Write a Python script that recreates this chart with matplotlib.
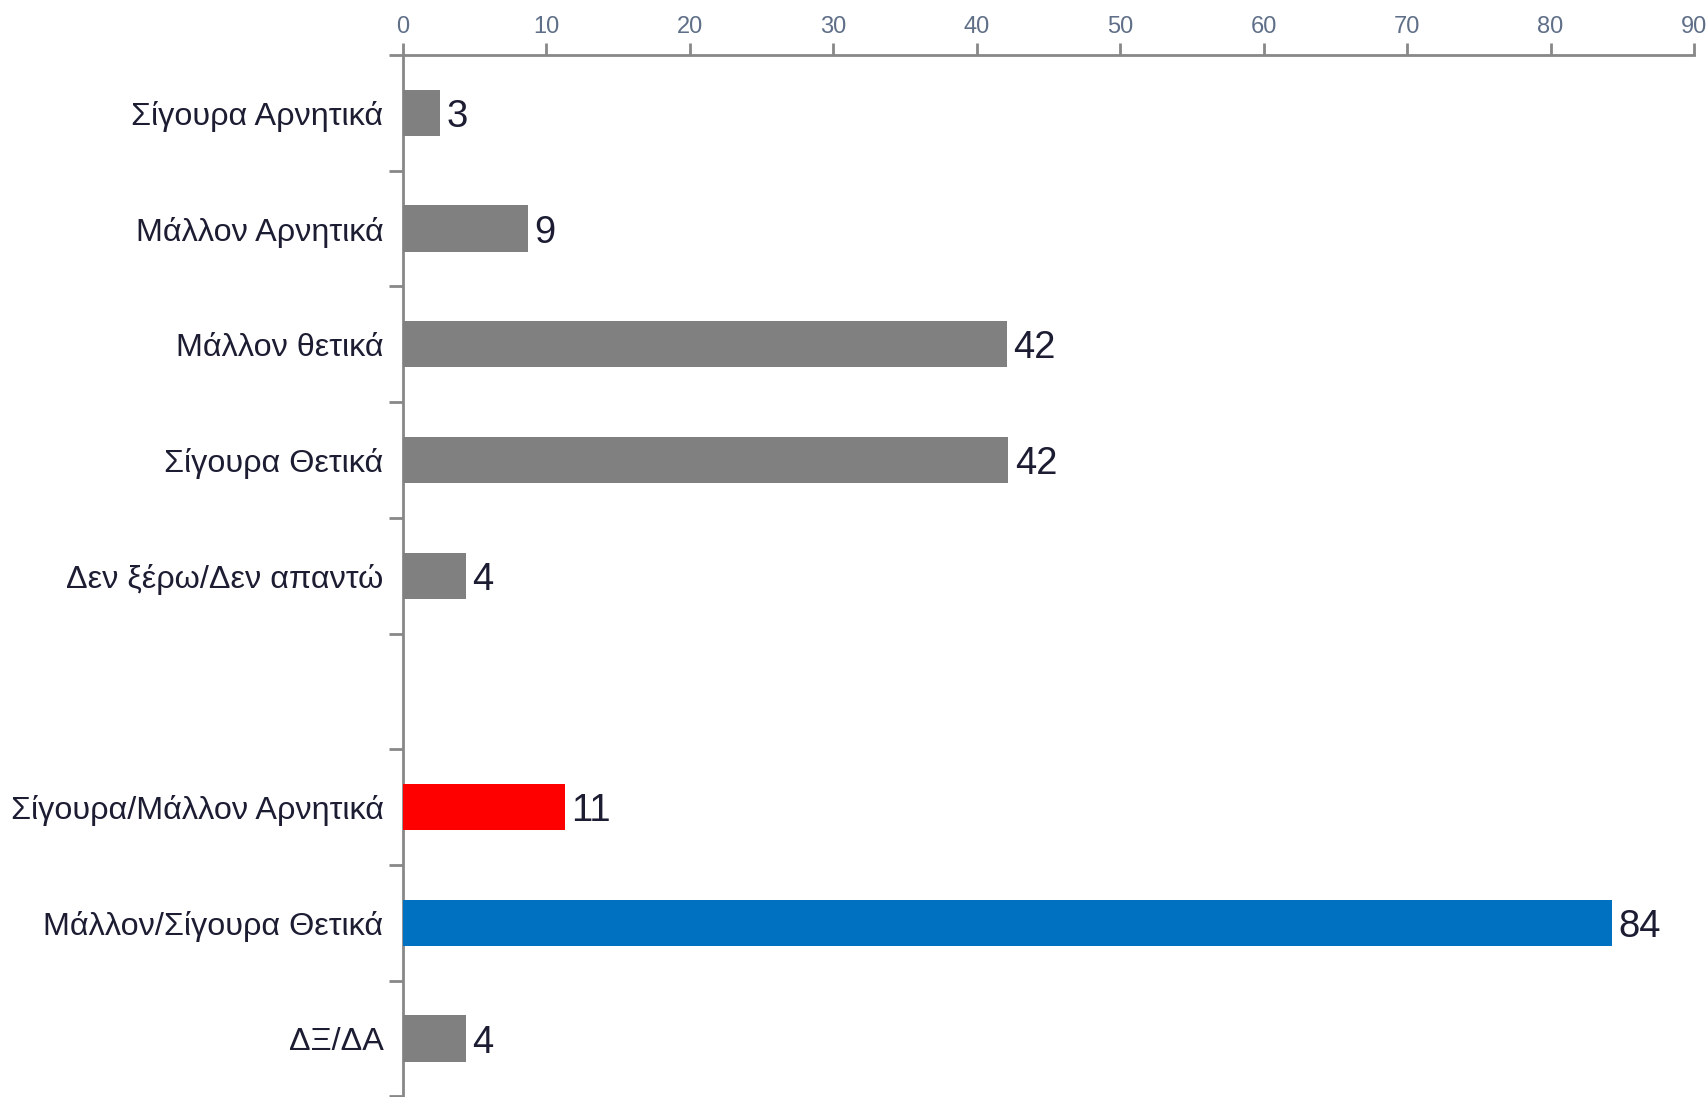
import numpy as np
import matplotlib
matplotlib.use("Agg")
import matplotlib.pyplot as plt

# survey answers; the empty slot separates the detailed and grouped answers
categories = ["Σίγουρα Αρνητικά", "Μάλλον Αρνητικά", "Μάλλον θετικά",
              "Σίγουρα Θετικά", "Δεν ξέρω/Δεν απαντώ", "",
              "Σίγουρα/Μάλλον Αρνητικά", "Μάλλον/Σίγουρα Θετικά", "ΔΞ/ΔΑ"]
values = [2.6, 8.7, 42.1, 42.2, 4.4, np.nan, 11.3, 84.3, 4.4]
colors = ["#808080", "#808080", "#808080", "#808080", "#808080", "#808080",
          "#FF0000", "#0070C0", "#808080"]
xticks = [0, 10, 20, 30, 40, 50, 60, 70, 80, 90]

plt.rcParams["font.family"] = ["Liberation Sans", "DejaVu Sans"]

fig = plt.figure(figsize=(17.08, 10.97), dpi=100)
ax = fig.add_axes([403 / 1708, 0.0005, (1694 - 403) / 1708, 1 - 55 / 1097 - 0.0005])

ypos = np.arange(len(categories))
for y, v, c in zip(ypos, values, colors):
    if np.isnan(v):
        continue
    ax.barh(y, v, height=0.40, color=c, zorder=3)
    ax.text(v + 0.45, y, f"{round(v):d}", va="center_baseline", ha="left",
            fontsize=27.5, color="#1c1c33")

ax.set_xlim(0, 90)
ax.set_ylim(len(categories) - 0.5, -0.5)

# x axis on top
ax.xaxis.tick_top()
ax.set_xticks(xticks)
ax.tick_params(axis="x", which="major", direction="out", length=9, width=2,
               color="#888888", labelsize=17, labelcolor="#5f6f88", pad=3)

# category labels at slot centres, tick marks at the slot boundaries
ax.set_yticks(ypos)
ax.set_yticklabels(categories)
ax.tick_params(axis="y", which="major", length=0, labelsize=23.3,
               labelcolor="#1c1c33", pad=14)
ax.set_yticks(np.arange(-0.5, len(categories)), minor=True)
ax.tick_params(axis="y", which="minor", direction="out", length=10, width=2,
               color="#888888")

for side in ("right", "bottom"):
    ax.spines[side].set_visible(False)
for side in ("top", "left"):
    ax.spines[side].set_color("#888888")
    ax.spines[side].set_linewidth(2)

fig.savefig("out.png", dpi=100)
